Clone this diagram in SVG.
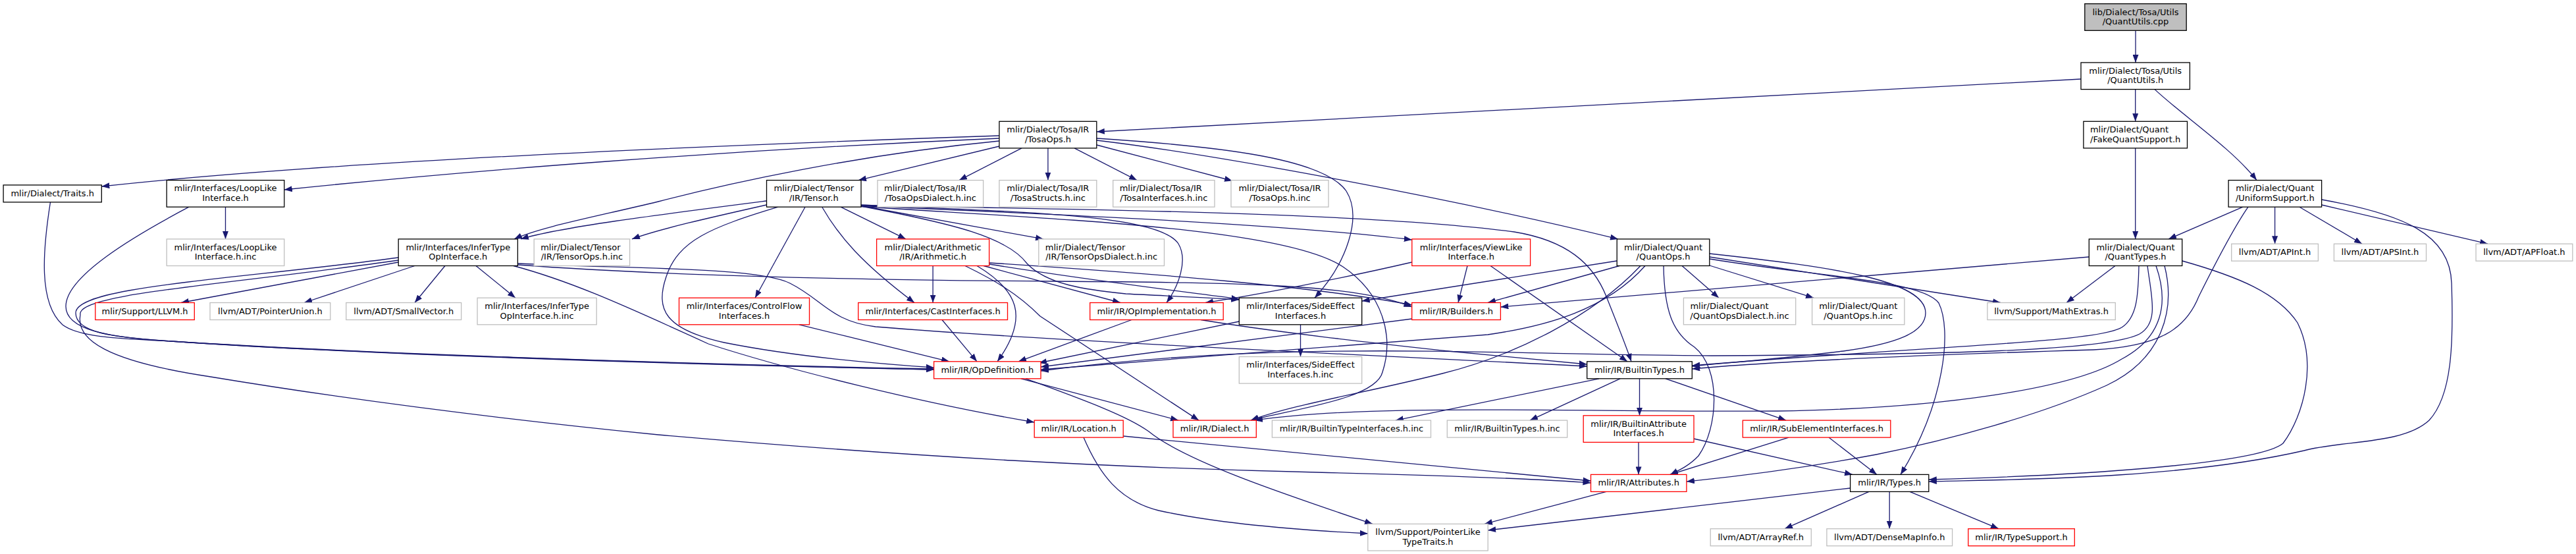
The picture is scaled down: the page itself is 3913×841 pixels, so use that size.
<svg xmlns="http://www.w3.org/2000/svg" width="3913" height="841" viewBox="0 0 3913 841">
<defs>
<marker id="ah" markerUnits="userSpaceOnUse" markerWidth="12" markerHeight="9" refX="12" refY="4.5" orient="auto">
<path d="M0,0 L12,4.5 L0,9 Z" fill="#191970"/>
</marker>
<style>
.node rect{fill:#fff;stroke-width:1.3}
.k rect{stroke:#000}
.g rect{stroke:#bfbfbf}
.r rect{stroke:#ff0000}
.root rect{fill:#bfbfbf;stroke:#000}
text{font-family:"DejaVu Sans","Liberation Sans",sans-serif;font-size:13px;fill:#000;text-anchor:middle}
text.l{text-anchor:start}
#edges path{fill:none;stroke:#191970;stroke-width:1.3;marker-end:url(#ah)}
</style>
</defs>
<rect width="3913" height="841" fill="#fff"/>
<g id="edges">
<path d="M3244,46.3 L3244,95"/>
<path d="M3161,120 L1665.8,200"/>
<path d="M3243.7,135.6 L3243.7,184.3"/>
<path d="M3273,135.6 C3315,175 3390,225 3428,273.6"/>
<path d="M3243.7,224.9 L3243.7,362.9"/>
<path d="M3407,314.2 L3294,362.9"/>
<path d="M3455.6,314.2 L3455.6,370.2"/>
<path d="M3493,314.2 L3588,370.2"/>
<path d="M3526.6,311 L3779,370.2"/>
<path d="M3415,314.2 C3390,350 3355,420 3340,450 C3320,500 3280,526 3180,531 C2950,538 2700,548 2570.3,560"/>
<path d="M3526.6,303 C3650,325 3722,355 3724,430 C3727,520 3725,600 3690,638 C3650,675 3560,668 3500,684 C3300,730 3020,728 2929.8,731"/>
<path d="M3314.7,396 C3400,420 3460,445 3490,490 C3520,550 3500,630 3468,673 C3430,705 3150,722 2929.8,728"/>
<path d="M3213,403.5 L3139,459.5"/>
<path d="M3173.3,390 L2279.4,466"/>
<path d="M3249,403.5 C3248,450 3246,482 3223,497 C3185,520 2950,524 2570.3,555"/>
<path d="M3262,403.5 C3268,450 3280,490 3250,507 C3200,533 2950,538 2600,540 C2250,538 1950,515 1581,563"/>
<path d="M3275,403.5 C3295,460 3285,512 3223,545 C3150,590 2950,620 2700,624 C2400,626 2080,612 1906,638.1"/>
<path d="M3288,403.5 C3305,470 3285,545 3200,585 C3100,630 2960,668 2850,690 C2700,718 2600,727 2561.9,731"/>
<path d="M2456.2,396 L2068.7,457"/>
<path d="M2460,403.5 L2260,459.5"/>
<path d="M2492,403.5 C2420,480 2300,540 2191,567 C2080,595 1960,615 1900,638.1"/>
<path d="M2499,403.5 C2440,470 2350,495 2260,508 C2050,525 1760,545 1581,561"/>
<path d="M2527,403.5 C2528,470 2540,505 2574,527 C2615,560 2610,650 2580,692 C2565,708 2548,715 2537,720.4"/>
<path d="M2555,403.5 L2611,452.2"/>
<path d="M2596.8,403 L2755,452.2"/>
<path d="M2596.8,390 L3039,459.5"/>
<path d="M2596.8,385 C2780,405 2925,425 2925,475 C2925,505 2880,522 2800,533 C2700,545 2620,551 2570.3,556"/>
<path d="M2596.8,393 C2760,420 2920,425 2945,460 C2965,500 2955,610 2887,720.4"/>
<path d="M2144.8,398 C2050,420 1910,448 1831,459.5"/>
<path d="M2229,403.5 L2215,459.5"/>
<path d="M2264,403.5 L2472,548.8"/>
<path d="M1164.5,305 C1000,326 850,345 791,362.9"/>
<path d="M1164.5,311 C1080,330 1000,348 960,362.9"/>
<path d="M1182,314.2 C1080,345 1030,365 1012,420 C995,470 1010,500 1100,520 C1200,540 1330,552 1418.6,558"/>
<path d="M1223,314.2 L1147,452.2"/>
<path d="M1248.7,314.2 C1275,360 1310,400 1389,459.5"/>
<path d="M1277,314.2 L1376,362.9"/>
<path d="M1308,312.5 L1585,362.9"/>
<path d="M1308,311 C1550,322 1760,325 1790,370 C1805,395 1790,435 1772,459.5"/>
<path d="M1308,313 C1450,340 1530,360 1560,400 C1590,432 1650,440 1710,446 C1790,450 1840,452 1882.3,455"/>
<path d="M1308,312 C1700,318 2100,325 2300,352 C2380,365 2420,400 2440,450 C2458,495 2470,525 2478,548.8"/>
<path d="M1308,312.5 C1600,325 1950,340 2144.8,364"/>
<path d="M1308,313.5 C1600,333 1950,345 2040,405 C2100,445 2118,510 2100,565 C2090,605 1970,620 1900,638.1"/>
<path d="M1517.9,206 C1100,220 500,245 154.3,283"/>
<path d="M1517.9,210 C1100,228 700,260 431.8,288"/>
<path d="M1517.9,214 C1300,235 1100,280 1000,306 C900,330 820,345 781,362.9"/>
<path d="M1517.9,222 L1304,273.6"/>
<path d="M1552,224.9 L1457,273.6"/>
<path d="M1591.9,224.9 L1591.9,273.6"/>
<path d="M1632,224.9 L1727,273.6"/>
<path d="M1665.8,220 L1872,274.5"/>
<path d="M1665.8,213 C1850,235 2200,300 2458,362.9"/>
<path d="M1665.8,210 C1850,222 2010,240 2045,290 C2070,330 2045,400 1997,452.2"/>
<path d="M1417.1,403.5 L1417.1,459.5"/>
<path d="M1466,403.5 C1510,425 1545,445 1580,480 L1821,638.1"/>
<path d="M1484,403.5 C1545,440 1565,480 1515,548.8"/>
<path d="M1494,403.5 L1702,459.5"/>
<path d="M1502.6,401 C1650,425 1800,443 1882.3,454"/>
<path d="M1502.6,399 C1750,415 2000,435 2144.7,463"/>
<path d="M605.2,398 L275,459.5"/>
<path d="M630,403.5 L462,459.5"/>
<path d="M676,403.5 L630,459.5"/>
<path d="M723,403.5 L783,452.2"/>
<path d="M605.2,391 C350,425 115,435 115,475 C115,505 170,512 260,518 C500,535 1000,552 1418.6,561"/>
<path d="M605.2,395 C350,432 115,445 122,478 C115,515 160,548 320,572 C550,610 800,640 1000,660 C1400,695 1700,710 2000,717 C2200,722 2350,728 2416.5,733"/>
<path d="M780,403.5 C860,425 930,455 1076,522 C1200,562 1400,612 1571.2,641"/>
<path d="M786.4,400 C950,408 1150,405 1200,430 C1250,455 1262,488 1330,496 C1600,518 2100,540 2410.7,556"/>
<path d="M786.4,402 C1000,418 1300,425 1600,427 C1900,429 2060,432 2144.7,466"/>
<path d="M342.5,314.2 L342.5,362.9"/>
<path d="M287,314.2 C200,360 100,420 100,465 C100,500 160,512 260,518 C520,535 1000,552 1418.6,560"/>
<path d="M76.5,306.9 C65,380 58,460 95,493 C120,512 180,514 260,518 C520,536 1000,553 1418.6,561"/>
<path d="M1214,492.8 L1442,548.8"/>
<path d="M1431,485.5 L1484,548.8"/>
<path d="M1719,485.5 L1547,548.8"/>
<path d="M1824,485.5 C1950,506 2100,522 2200,533 C2300,543 2370,549 2410.7,553"/>
<path d="M1882.3,488 L1578,551"/>
<path d="M1975.5,492.8 L1975.5,541.5"/>
<path d="M2144.7,484 L1581,557"/>
<path d="M1551,574.8 L1790,638.1"/>
<path d="M1558,574.8 C1640,605 1710,630 1745,655 C1800,700 1950,750 2085,795.4"/>
<path d="M1706.2,662 L2416.5,730"/>
<path d="M1646,664.1 C1670,720 1700,760 1760,775 C1850,795 1980,805 2077.8,810"/>
<path d="M2429,574.8 L2120,638.1"/>
<path d="M2461,574.8 L2324,638.1"/>
<path d="M2490.5,574.8 L2490.5,630.8"/>
<path d="M2530,574.8 L2713,638.1"/>
<path d="M2489,671.4 L2489,720.4"/>
<path d="M2573,666 L2814,720.4"/>
<path d="M2717,664.1 L2537,720.4"/>
<path d="M2778,664.1 L2851,720.4"/>
<path d="M2440,746.4 L2255,795.4"/>
<path d="M2810.6,741 L2260.2,805"/>
<path d="M2839,746.4 L2711,802.7"/>
<path d="M2870.2,746.4 L2870.2,802.7"/>
<path d="M2901,746.4 L3036,802.7"/>
</g>
<g id="node_cpp" class="node root"><rect x="3166.8" y="5.7" width="154.4" height="40.6"/><text x="3244" y="22.5">lib/Dialect/Tosa/Utils</text><text x="3244" y="37">/QuantUtils.cpp</text></g>
<g id="node_quantutils_h" class="node k"><rect x="3161" y="95" width="165.4" height="40.6"/><text x="3243.7" y="111.8">mlir/Dialect/Tosa/Utils</text><text x="3243.7" y="126.3">/QuantUtils.h</text></g>
<g id="node_tosaops_h" class="node k"><rect x="1517.9" y="184.3" width="147.9" height="40.6"/><text x="1591.85" y="201.1">mlir/Dialect/Tosa/IR</text><text x="1591.85" y="215.6">/TosaOps.h</text></g>
<g id="node_fakequant" class="node k"><rect x="3164.9" y="184.3" width="157.6" height="40.6"/><text class="l" x="3174.9" y="201.1">mlir/Dialect/Quant</text><text x="3243.7" y="215.6">/FakeQuantSupport.h</text></g>
<g id="node_traits" class="node k"><rect x="5.1" y="280.9" width="149.2" height="26"/><text x="79.7" y="297.9">mlir/Dialect/Traits.h</text></g>
<g id="node_looplike" class="node k"><rect x="253.2" y="273.6" width="178.6" height="40.6"/><text x="342.5" y="290.4">mlir/Interfaces/LoopLike</text><text x="342.5" y="304.9">Interface.h</text></g>
<g id="node_tensor" class="node k"><rect x="1164.5" y="273.6" width="143.5" height="40.6"/><text x="1236.25" y="290.4">mlir/Dialect/Tensor</text><text x="1236.25" y="304.9">/IR/Tensor.h</text></g>
<g id="node_tosaopsdialect_inc" class="node g"><rect x="1333" y="273.6" width="160.6" height="40.6"/><text class="l" x="1343" y="290.4">mlir/Dialect/Tosa/IR</text><text x="1413.3" y="304.9">/TosaOpsDialect.h.inc</text></g>
<g id="node_tosastructs_inc" class="node g"><rect x="1517.9" y="273.6" width="147.9" height="40.6"/><text x="1591.85" y="290.4">mlir/Dialect/Tosa/IR</text><text x="1591.85" y="304.9">/TosaStructs.h.inc</text></g>
<g id="node_tosainterfaces_inc" class="node g"><rect x="1690.7" y="273.6" width="154.3" height="40.6"/><text class="l" x="1700.7" y="290.4">mlir/Dialect/Tosa/IR</text><text x="1767.85" y="304.9">/TosaInterfaces.h.inc</text></g>
<g id="node_tosaops_inc" class="node g"><rect x="1870" y="273.6" width="148" height="40.6"/><text x="1944" y="290.4">mlir/Dialect/Tosa/IR</text><text x="1944" y="304.9">/TosaOps.h.inc</text></g>
<g id="node_uniformsupport" class="node k"><rect x="3385.1" y="273.6" width="141.5" height="40.6"/><text x="3455.85" y="290.4">mlir/Dialect/Quant</text><text x="3455.85" y="304.9">/UniformSupport.h</text></g>
<g id="node_looplike_inc" class="node g"><rect x="253.2" y="362.9" width="178.6" height="40.6"/><text x="342.5" y="379.7">mlir/Interfaces/LoopLike</text><text x="342.5" y="394.2">Interface.h.inc</text></g>
<g id="node_infertype" class="node k"><rect x="605.2" y="362.9" width="181.2" height="40.6"/><text x="695.8" y="379.7">mlir/Interfaces/InferType</text><text x="695.8" y="394.2">OpInterface.h</text></g>
<g id="node_tensorops_inc" class="node g"><rect x="811.2" y="362.9" width="145.4" height="40.6"/><text class="l" x="821.2" y="379.7">mlir/Dialect/Tensor</text><text x="883.9" y="394.2">/IR/TensorOps.h.inc</text></g>
<g id="node_arithmetic" class="node r"><rect x="1331.6" y="362.9" width="171" height="40.6"/><text x="1417.1" y="379.7">mlir/Dialect/Arithmetic</text><text x="1417.1" y="394.2">/IR/Arithmetic.h</text></g>
<g id="node_tensoropsdialect_inc" class="node g"><rect x="1577.8" y="362.9" width="190.7" height="40.6"/><text class="l" x="1587.8" y="379.7">mlir/Dialect/Tensor</text><text x="1673.15" y="394.2">/IR/TensorOpsDialect.h.inc</text></g>
<g id="node_viewlike" class="node r"><rect x="2144.8" y="362.9" width="179.8" height="40.6"/><text x="2234.7" y="379.7">mlir/Interfaces/ViewLike</text><text x="2234.7" y="394.2">Interface.h</text></g>
<g id="node_quantops" class="node k"><rect x="2456.2" y="362.9" width="140.6" height="40.6"/><text x="2526.5" y="379.7">mlir/Dialect/Quant</text><text x="2526.5" y="394.2">/QuantOps.h</text></g>
<g id="node_quanttypes" class="node k"><rect x="3173.3" y="362.9" width="141.4" height="40.6"/><text x="3244" y="379.7">mlir/Dialect/Quant</text><text x="3244" y="394.2">/QuantTypes.h</text></g>
<g id="node_apint" class="node g"><rect x="3389.7" y="370.2" width="131.7" height="26"/><text x="3455.55" y="387.2">llvm/ADT/APInt.h</text></g>
<g id="node_apsint" class="node g"><rect x="3545.4" y="370.2" width="140.1" height="26"/><text x="3615.45" y="387.2">llvm/ADT/APSInt.h</text></g>
<g id="node_apfloat" class="node g"><rect x="3761" y="370.2" width="146.8" height="26"/><text x="3834.4" y="387.2">llvm/ADT/APFloat.h</text></g>
<g id="node_llvm" class="node r"><rect x="144.8" y="459.5" width="150.5" height="26"/><text x="220.05" y="476.5">mlir/Support/LLVM.h</text></g>
<g id="node_pointerunion" class="node g"><rect x="319" y="459.5" width="182.8" height="26"/><text x="410.4" y="476.5">llvm/ADT/PointerUnion.h</text></g>
<g id="node_smallvector" class="node g"><rect x="525.8" y="459.5" width="174.9" height="26"/><text x="613.25" y="476.5">llvm/ADT/SmallVector.h</text></g>
<g id="node_infertype_inc" class="node g"><rect x="725.1" y="452.2" width="181.1" height="40.6"/><text x="815.65" y="469">mlir/Interfaces/InferType</text><text x="815.65" y="483.5">OpInterface.h.inc</text></g>
<g id="node_controlflow" class="node r"><rect x="1031.5" y="452.2" width="198" height="40.6"/><text x="1130.5" y="469">mlir/Interfaces/ControlFlow</text><text x="1130.5" y="483.5">Interfaces.h</text></g>
<g id="node_castinterfaces" class="node r"><rect x="1303.7" y="459.5" width="226.8" height="26"/><text x="1417.1" y="476.5">mlir/Interfaces/CastInterfaces.h</text></g>
<g id="node_opimplementation" class="node r"><rect x="1655.7" y="459.5" width="202.5" height="26"/><text x="1756.95" y="476.5">mlir/IR/OpImplementation.h</text></g>
<g id="node_sideeffect" class="node k"><rect x="1882.3" y="452.2" width="186.4" height="40.6"/><text x="1975.5" y="469">mlir/Interfaces/SideEffect</text><text x="1975.5" y="483.5">Interfaces.h</text></g>
<g id="node_builders" class="node r"><rect x="2144.7" y="459.5" width="134.7" height="26"/><text x="2212.05" y="476.5">mlir/IR/Builders.h</text></g>
<g id="node_quantopsdialect_inc" class="node g"><rect x="2557.4" y="452.2" width="170.3" height="40.6"/><text class="l" x="2567.4" y="469">mlir/Dialect/Quant</text><text x="2642.55" y="483.5">/QuantOpsDialect.h.inc</text></g>
<g id="node_quantops_inc" class="node g"><rect x="2752.6" y="452.2" width="140.3" height="40.6"/><text x="2822.75" y="469">mlir/Dialect/Quant</text><text x="2822.75" y="483.5">/QuantOps.h.inc</text></g>
<g id="node_mathextras" class="node g"><rect x="3018.9" y="459.5" width="194.4" height="26"/><text x="3116.1" y="476.5">llvm/Support/MathExtras.h</text></g>
<g id="node_opdefinition" class="node r"><rect x="1418.6" y="548.8" width="162.4" height="26"/><text x="1499.8" y="565.8">mlir/IR/OpDefinition.h</text></g>
<g id="node_sideeffect_inc" class="node g"><rect x="1882.3" y="541.5" width="186.4" height="40.6"/><text x="1975.5" y="558.3">mlir/Interfaces/SideEffect</text><text x="1975.5" y="572.8">Interfaces.h.inc</text></g>
<g id="node_builtintypes" class="node k"><rect x="2410.7" y="548.8" width="159.6" height="26"/><text x="2490.5" y="565.8">mlir/IR/BuiltinTypes.h</text></g>
<g id="node_location" class="node r"><rect x="1571.2" y="638.1" width="135" height="26"/><text x="1638.7" y="655.1">mlir/IR/Location.h</text></g>
<g id="node_dialect" class="node r"><rect x="1782" y="638.1" width="126.3" height="26"/><text x="1845.15" y="655.1">mlir/IR/Dialect.h</text></g>
<g id="node_builtintypeinterfaces_inc" class="node g"><rect x="1932.4" y="638.1" width="241.1" height="26"/><text x="2052.95" y="655.1">mlir/IR/BuiltinTypeInterfaces.h.inc</text></g>
<g id="node_builtintypes_inc" class="node g"><rect x="2198.3" y="638.1" width="182.4" height="26"/><text x="2289.5" y="655.1">mlir/IR/BuiltinTypes.h.inc</text></g>
<g id="node_builtinattributeinterfaces" class="node r"><rect x="2405.2" y="630.8" width="167.8" height="40.6"/><text x="2489.1" y="647.6">mlir/IR/BuiltinAttribute</text><text x="2489.1" y="662.1">Interfaces.h</text></g>
<g id="node_subelementinterfaces" class="node r"><rect x="2647.3" y="638.1" width="224.5" height="26"/><text x="2759.55" y="655.1">mlir/IR/SubElementInterfaces.h</text></g>
<g id="node_attributes" class="node r"><rect x="2416.5" y="720.4" width="145.4" height="26"/><text x="2489.2" y="737.4">mlir/IR/Attributes.h</text></g>
<g id="node_types" class="node k"><rect x="2810.6" y="720.4" width="119.2" height="26"/><text x="2870.2" y="737.4">mlir/IR/Types.h</text></g>
<g id="node_pointerliketypetraits" class="node g"><rect x="2077.8" y="795.4" width="182.4" height="40.6"/><text x="2169" y="812.2">llvm/Support/PointerLike</text><text x="2169" y="826.7">TypeTraits.h</text></g>
<g id="node_arrayref" class="node g"><rect x="2598.2" y="802.7" width="153.1" height="26"/><text x="2674.75" y="819.7">llvm/ADT/ArrayRef.h</text></g>
<g id="node_densemapinfo" class="node g"><rect x="2774.9" y="802.7" width="190.7" height="26"/><text x="2870.25" y="819.7">llvm/ADT/DenseMapInfo.h</text></g>
<g id="node_typesupport" class="node r"><rect x="2989.8" y="802.7" width="161.5" height="26"/><text x="3070.55" y="819.7">mlir/IR/TypeSupport.h</text></g>
</svg>
